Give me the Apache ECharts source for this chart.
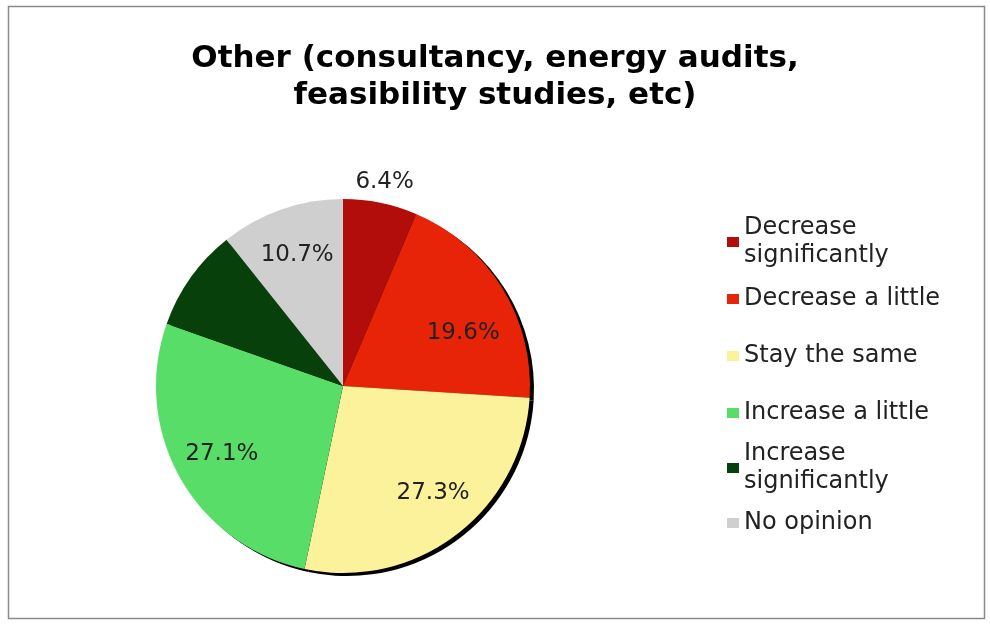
<!DOCTYPE html>
<html>
<head>
<meta charset="utf-8">
<script src="https://cdn.jsdelivr.net/npm/echarts@6/dist/echarts.min.js"></script>
<style>html,body{margin:0;padding:0;background:#fff}#c{width:990px;height:624px}</style>
</head>
<body>
<div id="c"></div>
<script>
const titleText = 'Other (consultancy, energy audits,\nfeasibility studies, etc)';
const categories = ['Decrease significantly', 'Decrease a little', 'Stay the same', 'Increase a little', 'Increase significantly', 'No opinion'];
const legendLabels = ['Decrease\nsignificantly', 'Decrease a little', 'Stay the same', 'Increase a little', 'Increase\nsignificantly', 'No opinion'];
const values = [6.4, 19.6, 27.3, 27.1, 8.9, 10.7];
const colors = ['#b20d0a', '#e82408', '#fdf29c', '#58de68', '#07400a', '#cfcfcf'];

const CX = 343, CY = 386, R = 187;
const legendCenters = [242, 299, 356, 413, 468, 523];

const chart = echarts.init(document.getElementById('c'));
const labelMap = {};
categories.forEach((c, i) => labelMap[c] = legendLabels[i]);

const legends = categories.map((name, i) => {
  const twoLine = legendLabels[i].indexOf('\n') >= 0;
  return {
    data: [name],
    orient: 'vertical',
    left: 727,
    top: legendCenters[i] - (twoLine ? 42 : 14),
    padding: 0,
    itemWidth: 12,
    itemHeight: 10,
    icon: 'rect',
    selectedMode: false,
    formatter: n => labelMap[n],
    textStyle: {
      fontFamily: 'DejaVu Sans',
      fontSize: 24,
      lineHeight: 28,
      color: '#222',
      padding: twoLine ? [28, 0, 0, 0] : 0
    }
  };
});

const nudges = [[0, 0], [2, 20], [6, -4], [0, 0], [0, 0], [0, 0]];

chart.setOption({
  backgroundColor: '#fff',
  animation: false,
  title: {
    text: titleText,
    left: 'center',
    top: 40,
    padding: 0,
    textStyle: {
      fontFamily: 'DejaVu Sans',
      fontWeight: 'bold',
      fontSize: 31,
      lineHeight: 37,
      color: '#000'
    }
  },
  legend: legends,
  graphic: [{
    type: 'rect',
    shape: { x: 8.5, y: 6.5, width: 976, height: 612 },
    style: { fill: 'none', stroke: '#8a8a8a', lineWidth: 1.5 },
    silent: true, z: 100
  }],
  series: [{
    type: 'pie',
    center: [CX, CY],
    radius: [0, R],
    startAngle: 90,
    clockwise: true,
    z: 3,
    silent: true,
    label: {
      show: true,
      position: 'inside',
      formatter: p => p.value.toFixed(1) + '%',
      fontFamily: 'DejaVu Sans',
      fontSize: 23,
      color: '#222'
    },
    labelLine: { show: false },
    labelLayout: function (p) {
      const lx = p.labelRect.x + p.labelRect.width / 2;
      const ly = p.labelRect.y + p.labelRect.height / 2;
      const k = p.dataIndex === 0 ? 1.16 : 0.44;
      const n = nudges[p.dataIndex];
      return { dx: (lx - CX) * k + n[0], dy: (ly - CY) * k + n[1] };
    },
    data: categories.map((name, i) => ({
      name, value: values[i], itemStyle: { color: colors[i] },
      label: { show: i !== 4 }
    }))
  }, {
    type: 'pie',
    center: [CX + 4, CY + 3],
    radius: [0, R],
    startAngle: 90,
    z: 1,
    silent: true,
    label: { show: false },
    labelLine: { show: false },
    itemStyle: { color: '#000' },
    emphasis: { disabled: true },
    data: categories.map((name, i) => ({ name, value: values[i] }))
  }]
});
</script>
</body>
</html>
